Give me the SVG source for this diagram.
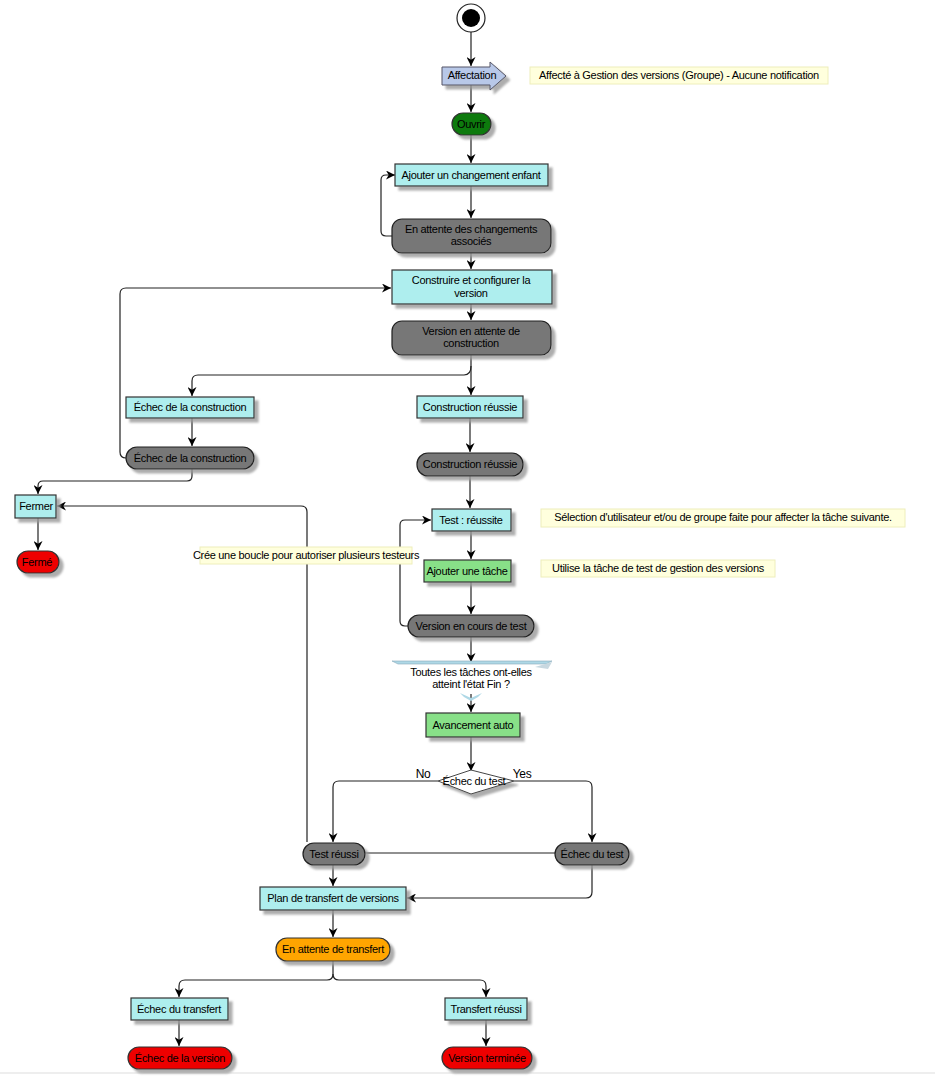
<svg xmlns="http://www.w3.org/2000/svg" width="935" height="1076" viewBox="0 0 935 1076">
<style>
text{font-family:"Liberation Sans",Arial,sans-serif;font-size:11px;fill:#000;text-anchor:middle;letter-spacing:-0.3px}
.act{fill:#aeeeee;stroke:#333;stroke-width:1.2;filter:url(#sh)}
.grn{fill:#88e088;stroke:#333;stroke-width:1.2;filter:url(#sh)}
.st{fill:#777;stroke:#222;stroke-width:1.2;filter:url(#sh)}
.red{fill:#ee0000;stroke:#333;stroke-width:1.2;filter:url(#sh)}
.note{fill:#ffffdd;stroke:#eeeebb;stroke-width:1}
.c{fill:none;stroke:#222;stroke-width:1.2}
.ca{fill:none;stroke:#222;stroke-width:1.2;marker-end:url(#ar)}
</style>
<defs>
<marker id="ar" viewBox="0 0 10 10" refX="10" refY="5" markerWidth="9" markerHeight="9" markerUnits="userSpaceOnUse" orient="auto"><path d="M0,0 L10,5 L0,10 L3,5 z" fill="#000"/></marker>
<filter id="sh" x="-10%" y="-20%" width="130%" height="160%"><feDropShadow dx="4" dy="4" stdDeviation="1" flood-color="#999" flood-opacity="0.8"/></filter>
</defs>
<rect width="935" height="1076" fill="#fff"/>
<line x1="0" y1="1073" x2="935" y2="1073" stroke="#ddd"/>
<g id="connectors">
<path class="ca" d="M471,31 V66"/>
<path class="ca" d="M471,85 V112"/>
<path class="ca" d="M471,135 V163"/>
<path class="ca" d="M471,186 V218"/>
<path class="ca" d="M392,236 H386 Q381,236 381,231 V180 Q381,175 386,175 H395"/>
<path class="ca" d="M471,253 V269"/>
<path class="ca" d="M471,304 V320"/>
<path class="ca" d="M471,355 V395"/>
<path class="ca" d="M471,366 Q471,375 464,375 H198 Q192,375 192,381 V396"/>
<path class="ca" d="M192,418 V446"/>
<path class="ca" d="M126,458 Q120,458 120,452 V294 Q120,288 126,288 H391"/>
<path class="ca" d="M470,418 V452"/>
<path class="ca" d="M470,476 V508"/>
<path class="ca" d="M192,469 V476 Q192,481 187,481 H43 Q38,481 38,486 V494"/>
<path class="ca" d="M38,518 V550"/>
<path class="ca" d="M307,842 V512 Q307,506 301,506 H57"/>
<path class="ca" d="M471,531 V559"/>
<path class="ca" d="M471,582 V614"/>
<path class="ca" d="M408,626 H405 Q400,626 400,621 V525 Q400,520 405,520 H431"/>
<path class="ca" d="M471,637 V662"/>
<path class="ca" d="M471,694 V712"/>
<path class="ca" d="M471,737 V771"/>
<path class="ca" d="M438,781 H339 Q333,781 333,787 V842"/>
<path class="ca" d="M514,781 H586 Q592,781 592,787 V842"/>
<path class="c" d="M365,853 H555"/>
<path class="ca" d="M333,865 V886"/>
<path class="ca" d="M592,865 V892 Q592,898 586,898 H407"/>
<path class="ca" d="M333,910 V937"/>
<path class="ca" d="M333,961 V974 Q333,980 327,980 H185 Q179,980 179,986 V997"/>
<path class="ca" d="M333,974 Q333,980 339,980 H480 Q486,980 486,986 V997"/>
<path class="ca" d="M179,1020 V1046"/>
<path class="ca" d="M486,1020 V1046"/>
</g>
<g id="start"><circle cx="471" cy="18" r="14" fill="#fff" stroke="#222" stroke-width="1.2"/><circle cx="471" cy="18" r="9" fill="#000"/></g>
<g id="affectation"><path d="M442,67 H490 V62 L506,76 L490,90 V85 H442 z" fill="#b8c8e8" stroke="#556" stroke-width="1" filter="url(#sh)"/><text x="472" y="79">Affectation</text></g>
<g id="note1"><rect class="note" x="530" y="67" width="298" height="17"/><text x="679" y="79">Affecté à Gestion des versions (Groupe) - Aucune notification</text></g>
<g id="ouvrir"><rect x="452" y="113" width="39" height="22" rx="11" fill="#0a7a0a" stroke="#333" stroke-width="1.2" filter="url(#sh)"/><text x="471" y="128">Ouvrir</text></g>
<g id="ajouterEnfant"><rect class="act" x="395" y="164" width="153" height="22"/><text x="471" y="179">Ajouter un changement enfant</text></g>
<g id="enAttenteChg"><rect class="st" x="392" y="219" width="159" height="34" rx="10"/><text x="471" y="233">En attente des changements</text><text x="471" y="245">associés</text></g>
<g id="construire"><rect class="act" x="392" y="270" width="160" height="34"/><text x="471" y="284">Construire et configurer la</text><text x="471" y="297">version</text></g>
<g id="versionAttente"><rect class="st" x="392" y="321" width="159" height="34" rx="10"/><text x="471" y="335">Version en attente de</text><text x="471" y="347">construction</text></g>
<g id="echecConstrAct"><rect class="act" x="126" y="397" width="128" height="21"/><text x="190" y="411">Échec de la construction</text></g>
<g id="echecConstrSt"><rect class="st" x="126" y="447" width="128" height="22" rx="11"/><text x="190" y="462">Échec de la construction</text></g>
<g id="constrReussieAct"><rect class="act" x="417" y="396" width="106" height="22"/><text x="470" y="411">Construction réussie</text></g>
<g id="constrReussieSt"><rect class="st" x="417" y="453" width="106" height="23" rx="11"/><text x="470" y="468">Construction réussie</text></g>
<g id="fermer"><rect class="act" x="15" y="495" width="41" height="23"/><text x="36" y="510">Fermer</text></g>
<g id="ferme"><rect class="red" x="17" y="551" width="42" height="22" rx="11"/><text x="37" y="566">Fermé</text></g>
<g id="testReussite"><rect class="act" x="432" y="509" width="79" height="22"/><text x="471" y="524">Test : réussite</text></g>
<g id="note2"><rect class="note" x="541" y="509" width="364" height="18"/><text x="723" y="521">Sélection d'utilisateur et/ou de groupe faite pour affecter la tâche suivante.</text></g>
<g id="ajouterTache"><rect class="grn" x="424" y="560" width="87" height="22"/><text x="467" y="575">Ajouter une tâche</text></g>
<g id="note3"><rect class="note" x="200" y="547" width="212" height="17"/><text x="306" y="559">Crée une boucle pour autoriser plusieurs testeurs</text></g>
<g id="note4"><rect class="note" x="541" y="560" width="234" height="17"/><text x="658" y="572">Utilise la tâche de test de gestion des versions</text></g>
<g id="versionTest"><rect class="st" x="408" y="615" width="126" height="22" rx="11"/><text x="471" y="630">Version en cours de test</text></g>
<g id="toutesTaches"><path d="M392,661 H552 L546,664 H398 z" fill="#aed8e6" stroke="#8ab" stroke-width="0.6"/><path d="M535,667 L552,662 L548,669 z" fill="#c8d8e0"/><path d="M460,693 L471,698 L482,693 L478,697 L471,701 L464,697 z" fill="#aed8e6"/><text x="471" y="676">Toutes les tâches ont-elles</text><text x="471" y="688">atteint l'état Fin ?</text></g>
<g id="avancement"><rect class="grn" x="426" y="713" width="94" height="24"/><text x="473" y="729">Avancement auto</text></g>
<g id="echecTestDec"><path d="M438,781 L471,770 L514,781 L471,794 z" fill="#fff" stroke="#444" stroke-width="1" filter="url(#sh)"/><text x="474" y="785">Échec du test</text><text x="423" y="778" style="font-size:12px">No</text><text x="522" y="778" style="font-size:12px">Yes</text></g>
<g id="testReussi"><rect class="st" x="303" y="843" width="62" height="22" rx="11"/><text x="334" y="858">Test réussi</text></g>
<g id="echecTestSt"><rect class="st" x="555" y="843" width="74" height="22" rx="11"/><text x="592" y="858">Échec du test</text></g>
<g id="planTransfert"><rect class="act" x="260" y="887" width="146" height="23"/><text x="333" y="902">Plan de transfert de versions</text></g>
<g id="attenteTransfert"><rect x="276" y="938" width="114" height="23" rx="11" fill="#ffa500" stroke="#333" stroke-width="1.2" filter="url(#sh)"/><text x="333" y="953">En attente de transfert</text></g>
<g id="echecTransfert"><rect class="act" x="131" y="998" width="97" height="22"/><text x="179" y="1013">Échec du transfert</text></g>
<g id="transfertReussi"><rect class="act" x="445" y="998" width="82" height="22"/><text x="486" y="1013">Transfert réussi</text></g>
<g id="echecVersion"><rect class="red" x="128" y="1047" width="104" height="22" rx="11"/><text x="180" y="1062">Échec de la version</text></g>
<g id="versionTerminee"><rect class="red" x="442" y="1047" width="90" height="22" rx="11"/><text x="487" y="1062">Version terminée</text></g>
</svg>
